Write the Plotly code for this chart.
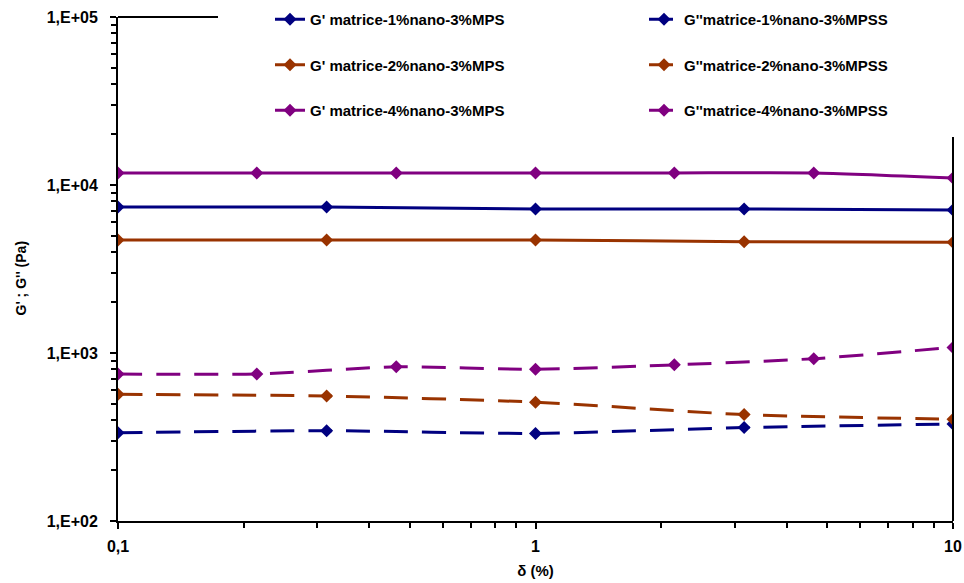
import plotly.graph_objects as go

# ---- data ----
x_fine = [0.1, 0.215, 0.464, 1, 2.15, 4.64, 10]
x_coarse = [0.1, 0.316, 1, 3.16, 10]

g1_storage = [7400, 7400, 7200, 7200, 7100]
g2_storage = [4700, 4700, 4700, 4600, 4560]
g4_storage = [11800, 11800, 11800, 11800, 11800, 11800, 11000]

g1_loss = [335, 345, 332, 360, 378]
g2_loss = [568, 555, 510, 430, 403]
g4_loss = [750, 750, 828, 800, 850, 925, 1080]

names_storage = ["G' matrice-1%nano-3%MPS", "G' matrice-2%nano-3%MPS", "G' matrice-4%nano-3%MPS"]
names_loss = ["G''matrice-1%nano-3%MPSS", "G''matrice-2%nano-3%MPSS", "G''matrice-4%nano-3%MPSS"]

y_tickvals = [100, 1000, 10000, 100000]
y_ticktext = ["1,E+02", "1,E+03", "1,E+04", "1,E+05"]
x_tickvals = [0.1, 1, 10]
x_ticktext = ["0,1", "1", "10"]

colors = ["#000080", "#993300", "#800080"]
FONT = "Liberation Sans, Arial, sans-serif"

fig = go.Figure()

storage = [(x_coarse, g1_storage), (x_coarse, g2_storage), (x_fine, g4_storage)]
loss = [(x_coarse, g1_loss), (x_coarse, g2_loss), (x_fine, g4_loss)]

for i, ((xs, ys), name) in enumerate(zip(storage, names_storage)):
    fig.add_trace(go.Scatter(
        x=xs, y=ys, name=name, mode="lines+markers",
        line=dict(color=colors[i], width=3, shape="spline", smoothing=0.6),
        marker=dict(symbol="diamond", size=10, color=colors[i]),
        legend="legend", legendgroup="s%d" % i))

for i, ((xs, ys), name) in enumerate(zip(loss, names_loss)):
    fig.add_trace(go.Scatter(
        x=xs, y=ys, name=name, mode="lines+markers",
        line=dict(color=colors[i], width=3, shape="spline", smoothing=0.6, dash="24px,14px"),
        marker=dict(symbol="diamond", size=10, color=colors[i]),
        legend="legend2", legendgroup="l%d" % i))

minor_y = [m * 10 ** e for e in (2, 3, 4) for m in range(2, 10)]
minor_x = [m * 10 ** e for e in (-1, 0) for m in range(2, 10)]

W, H = 964, 583
L, R, T, B = 118, 11, 17, 62
pw, ph = W - L - R, H - T - B

def px_x(px):
    return (px - L) / pw

def px_y(py):
    return (H - B - py) / ph

legend_common = dict(
    font=dict(family=FONT, size=15, color="#000000", weight=700),
    bgcolor="rgba(0,0,0,0)", borderwidth=0, tracegroupgap=23,
    orientation="v", xanchor="left", yanchor="top", itemwidth=30,
)

fig.update_layout(
    width=W, height=H,
    margin=dict(l=L, r=R, t=T, b=B, autoexpand=False),
    paper_bgcolor="white", plot_bgcolor="white",
    font=dict(family=FONT, color="#000000"),
    showlegend=True,
    legend=dict(x=px_x(270), y=px_y(3), **legend_common),
    legend2=dict(x=px_x(644), y=px_y(3), **legend_common),
    xaxis=dict(
        type="log", range=[-1, 1],
        tickmode="array", tickvals=x_tickvals, ticktext=x_ticktext,
        ticks="outside", ticklen=6, tickwidth=1.5, tickcolor="#000000",
        minor=dict(tickvals=minor_x, ticks="outside", ticklen=5, tickwidth=1.5, tickcolor="#000000"),
        showline=True, linecolor="#000000", linewidth=2, mirror=False,
        showgrid=False, zeroline=False,
        tickfont=dict(family=FONT, size=16, weight=700),
        ticklabelstandoff=4,
        title=dict(text="δ (%)", font=dict(family=FONT, size=15, weight=700), standoff=11),
    ),
    yaxis=dict(
        type="log", range=[2, 5],
        tickmode="array", tickvals=y_tickvals, ticktext=y_ticktext,
        ticks="outside", ticklen=6, tickwidth=1.5, tickcolor="#000000",
        minor=dict(tickvals=minor_y, ticks="outside", ticklen=5, tickwidth=1.5, tickcolor="#000000"),
        showline=True, linecolor="#000000", linewidth=2, mirror=False,
        showgrid=False, zeroline=False,
        tickfont=dict(family=FONT, size=16, weight=700),
        ticklabelstandoff=9,
    ),
    shapes=[
        dict(type="line", xref="paper", yref="paper", x0=0, x1=px_x(218), y0=1, y1=1,
             line=dict(color="#000000", width=2)),
        dict(type="line", xref="paper", yref="paper", x0=1, x1=1, y0=0, y1=px_y(137),
             line=dict(color="#000000", width=2)),
    ],
    annotations=[
        dict(text="G' ; G'' (Pa)", textangle=-90, xref="paper", yref="paper",
             x=px_x(20), y=px_y(318), xanchor="center", yanchor="bottom", showarrow=False,
             font=dict(family=FONT, size=14, weight=700, color="#000000")),
    ],
)

fig.write_html("out.html", config={"displayModeBar": False},
               post_script="document.body.style.margin='0';")
